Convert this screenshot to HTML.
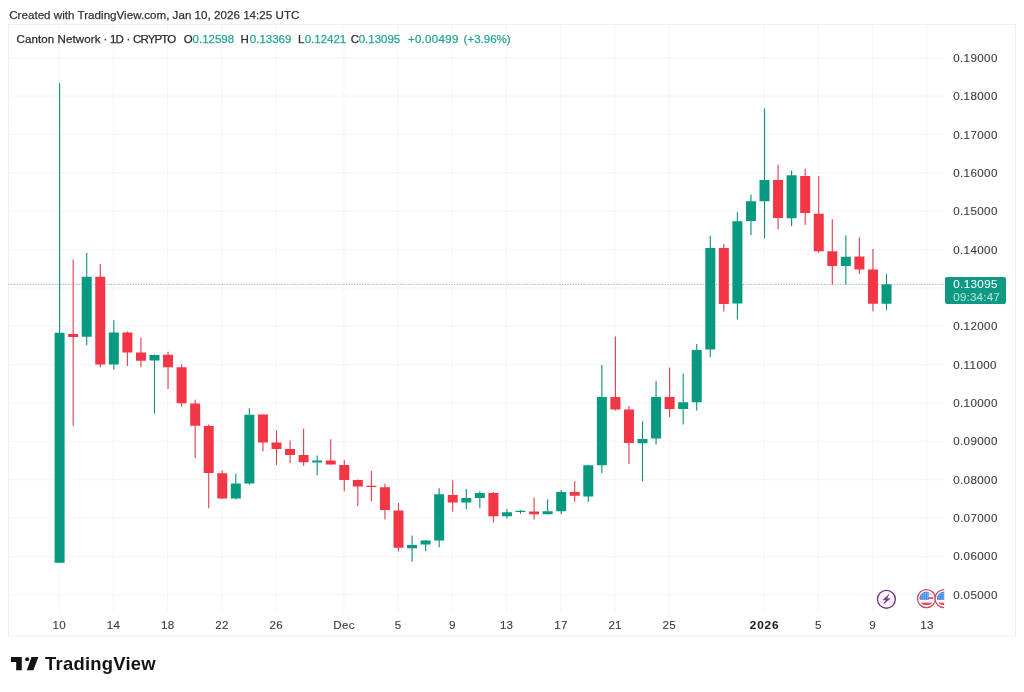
<!DOCTYPE html>
<html lang="en">
<head>
<meta charset="utf-8">
<title>Canton Network chart</title>
<style>
html,body{margin:0;padding:0;background:#fff;}
body{width:1024px;height:692px;position:relative;overflow:hidden;font-family:"Liberation Sans",sans-serif;color:#131722;-webkit-text-stroke:0.25px currentColor;}
.hdr{position:absolute;left:9.2px;top:6.7px;font-size:11.6px;line-height:16px;color:#333;white-space:nowrap;letter-spacing:0.02px}
.leg{position:absolute;left:0;top:31.4px;font-size:11.5px;line-height:16px;color:#2a2b30;white-space:nowrap}
.leg .v{color:#26a391}
.leg span{position:absolute;top:0}
.pl{-webkit-text-stroke:0.12px currentColor;position:absolute;left:953.2px;width:60px;font-size:11.6px;line-height:16px;height:16px;color:#3a3d46;white-space:nowrap;letter-spacing:0.38px}
.tl{-webkit-text-stroke:0.12px currentColor;position:absolute;top:616.7px;width:60px;text-align:center;font-size:11.6px;line-height:16px;color:#3a3d46;white-space:nowrap;letter-spacing:0.25px}
.tl.b{font-weight:bold;color:#1e2026;font-size:11.8px;letter-spacing:0.85px;text-indent:0.8px}
.tag{-webkit-text-stroke:0.08px currentColor;position:absolute;left:945.2px;top:276.5px;width:60.8px;height:27.9px;background:#0f9983;border-radius:2px;color:#f2fffb;font-size:11.6px;}
.tag div{position:absolute;left:8.1px;white-space:nowrap;line-height:14px;letter-spacing:0.38px}
.tag .t2{color:rgba(225,255,246,0.72);letter-spacing:0.19px}
.logo{-webkit-text-stroke:0;position:absolute;left:45.1px;top:651.9px;font-size:18.4px;line-height:24px;font-weight:bold;color:#131313;white-space:nowrap;letter-spacing:0.25px}
</style>
</head>
<body>
<svg width="1024" height="692" viewBox="0 0 1024 692" style="position:absolute;left:0;top:0">
<rect x="8.5" y="24.5" width="1007.0" height="611.5" fill="#fff" stroke="#eeeff1" stroke-width="1"/>
<path d="M8.5 57.7H944.0M8.5 96.1H944.0M8.5 134.4H944.0M8.5 172.8H944.0M8.5 211.1H944.0M8.5 249.5H944.0M8.5 287.9H944.0M8.5 326.2H944.0M8.5 364.6H944.0M8.5 402.9H944.0M8.5 441.3H944.0M8.5 479.7H944.0M8.5 518.0H944.0M8.5 556.4H944.0M8.5 594.7H944.0M59.2 24.5V612.5M113.4 24.5V612.5M167.6 24.5V612.5M221.9 24.5V612.5M276.1 24.5V612.5M343.9 24.5V612.5M398.1 24.5V612.5M452.3 24.5V612.5M506.5 24.5V612.5M560.8 24.5V612.5M615.0 24.5V612.5M669.2 24.5V612.5M764.1 24.5V612.5M818.3 24.5V612.5M872.6 24.5V612.5M926.8 24.5V612.5" stroke="#f4f5f7" stroke-width="1" fill="none"/>
<path d="M8.5 284.4H945.5" stroke="#5f9e93" stroke-width="1" stroke-dasharray="1.1 1.6" opacity="0.8" fill="none"/>
<path d="M59.60 83.2V562.8M86.71 253.0V345.0M113.82 320.0V369.4M154.49 354.5V413.4M235.83 473.8V499.5M249.38 408.2V484.6M317.16 455.5V475.2M412.06 535.4V561.7M425.61 540.0V551.2M439.17 488.2V547.3M466.28 489.0V509.3M479.84 491.5V508.3M506.95 509.0V518.4M520.50 510.0V513.7M547.62 499.5V514.5M561.17 490.0V514.3M588.28 464.7V502.2M601.84 364.9V473.2M642.51 421.2V481.3M656.06 381.1V444.6M683.18 373.6V424.6M696.73 344.0V410.4M710.29 235.8V357.1M737.40 212.3V319.5M750.96 194.5V235.1M764.51 108.5V238.6M791.62 170.4V226.0M845.85 235.3V284.7M886.52 273.8V310.3" stroke="#0a8f79" stroke-width="1.1" fill="none"/>
<path d="M73.16 259.4V425.8M100.27 264.3V367.2M127.38 331.5V366.0M140.94 337.4V367.2M168.05 351.7V389.0M181.60 364.3V406.4M195.16 399.7V458.0M208.72 424.6V508.2M222.27 470.4V499.0M262.94 414.5V451.3M276.50 430.3V464.8M290.05 440.5V463.1M303.61 428.7V465.7M330.72 439.2V464.8M344.28 460.0V491.2M357.83 479.5V506.0M371.39 471.0V500.9M384.94 483.7V519.5M398.50 503.0V551.5M452.72 480.3V511.7M493.39 492.0V522.4M534.06 497.5V519.4M574.73 480.9V501.8M615.40 336.6V410.4M628.95 406.0V464.1M669.62 367.5V417.1M723.84 243.9V311.4M778.07 164.7V229.6M805.18 168.8V225.0M818.74 175.9V252.7M832.29 219.3V284.7M859.40 237.5V274.0M872.96 249.1V311.2" stroke="#e63a49" stroke-width="1.1" fill="none"/>
<path d="M54.60 332.8h10.0v230.0h-10.0zM81.71 276.7h10.0v60.1h-10.0zM108.82 332.5h10.0v32.1h-10.0zM149.49 355.0h10.0v5.5h-10.0zM230.83 483.6h10.0v14.9h-10.0zM244.38 414.7h10.0v68.9h-10.0zM312.16 460.4h10.0v2.0h-10.0zM407.06 545.0h10.0v3.2h-10.0zM420.61 540.5h10.0v4.0h-10.0zM434.17 494.2h10.0v46.2h-10.0zM461.28 497.9h10.0v4.7h-10.0zM474.84 492.9h10.0v5.0h-10.0zM501.95 512.3h10.0v3.9h-10.0zM515.50 510.7h10.0v1.2h-10.0zM542.62 511.3h10.0v3.0h-10.0zM556.17 492.0h10.0v19.3h-10.0zM583.28 465.3h10.0v31.2h-10.0zM596.84 396.9h10.0v68.4h-10.0zM637.51 438.9h10.0v4.3h-10.0zM651.06 396.9h10.0v41.7h-10.0zM678.18 402.3h10.0v6.7h-10.0zM691.73 350.0h10.0v52.3h-10.0zM705.29 247.9h10.0v101.7h-10.0zM732.40 221.2h10.0v82.4h-10.0zM745.96 201.2h10.0v19.8h-10.0zM759.51 179.9h10.0v21.3h-10.0zM786.62 175.3h10.0v43.0h-10.0zM840.85 256.8h10.0v9.1h-10.0zM881.52 284.2h10.0v19.6h-10.0z" fill="#089981"/>
<path d="M68.16 334.0h10.0v3.0h-10.0zM95.27 276.7h10.0v87.9h-10.0zM122.38 332.5h10.0v19.9h-10.0zM135.94 352.4h10.0v8.3h-10.0zM163.05 354.8h10.0v12.5h-10.0zM176.60 367.3h10.0v36.0h-10.0zM190.16 403.5h10.0v22.3h-10.0zM203.72 426.0h10.0v47.0h-10.0zM217.27 473.3h10.0v25.2h-10.0zM257.94 414.6h10.0v27.8h-10.0zM271.50 442.6h10.0v6.4h-10.0zM285.05 449.0h10.0v6.0h-10.0zM298.61 455.0h10.0v7.3h-10.0zM325.72 460.6h10.0v4.0h-10.0zM339.28 464.9h10.0v15.2h-10.0zM352.83 480.1h10.0v6.3h-10.0zM366.39 485.7h10.0v1.2h-10.0zM379.94 487.2h10.0v22.8h-10.0zM393.50 510.4h10.0v37.4h-10.0zM447.72 494.9h10.0v7.7h-10.0zM488.39 492.9h10.0v23.3h-10.0zM529.06 511.5h10.0v2.7h-10.0zM569.73 492.0h10.0v3.7h-10.0zM610.40 396.9h10.0v12.7h-10.0zM623.95 409.6h10.0v33.4h-10.0zM664.62 396.9h10.0v12.1h-10.0zM718.84 247.9h10.0v56.1h-10.0zM773.07 179.9h10.0v38.0h-10.0zM800.18 175.9h10.0v37.0h-10.0zM813.74 213.8h10.0v37.5h-10.0zM827.29 251.3h10.0v14.6h-10.0zM854.40 256.4h10.0v13.1h-10.0zM867.96 269.4h10.0v34.4h-10.0z" fill="#f23645"/>

<defs>
<clipPath id="paneclip"><rect x="8.5" y="24.5" width="935.7" height="588"/></clipPath>
<clipPath id="fc"><circle cx="0" cy="0" r="7.1"/></clipPath>
<pattern id="stars" x="-7.6" y="-7.4" width="2.1" height="2.1" patternUnits="userSpaceOnUse"><rect width="2.1" height="2.1" fill="#3f7fdc"/><path d="M0 0H2.1M0 0V2.1" stroke="#9fd4f7" stroke-width="0.7"/></pattern>
<g id="flag">
<circle cx="0" cy="0" r="9.05" fill="#fff" stroke="#cf4a62" stroke-width="1.3"/>
<g clip-path="url(#fc)">
<rect x="-8" y="-8" width="16" height="16" fill="#fff"/>
<rect x="-8" y="-5.3" width="16" height="1.5" fill="#f6c3ca"/>
<rect x="-8" y="-1.3" width="16" height="1.7" fill="#d9506a"/>
<rect x="-8" y="4.0" width="16" height="2.6" fill="#dc5068"/>
<rect x="-8" y="-8" width="10.2" height="9.3" fill="url(#stars)"/>
</g>
</g>
</defs>
<g>
<circle cx="886.4" cy="599.3" r="8.95" fill="#fef7ff" stroke="#6c3386" stroke-width="1.3"/>
<path d="M888.9 594.4L882.9 599.9L886.2 599.7L883.6 604L890.2 598.6L886.8 598.8Z" fill="#74358f" stroke="#74358f" stroke-width="0.5" stroke-linejoin="round"/>
</g>
<g fill="#131313"><path d="M11 657.1H21.8V670.3H16.2V661.9H11Z"/><circle cx="27.1" cy="659.2" r="2.0"/><path d="M31.5 657.1H38.4L33.4 670.3H26.8Z"/></g>
<g clip-path="url(#paneclip)">
<use href="#flag" x="926.5" y="598.6"/>
<use href="#flag" x="944.1" y="598.6"/>
</g>

</svg>
<div class="hdr">Created with TradingView.com, Jan 10, 2026 14:25 UTC</div>
<div class="leg"><span style="left:16.5px;letter-spacing:0.12px">Canton Network</span><span style="left:103.4px">·</span><span style="left:110px;letter-spacing:-0.9px">1D</span><span style="left:126.4px">·</span><span style="left:133px;letter-spacing:-0.85px">CRYPTO</span><span style="left:183.8px;letter-spacing:-0.3px">O</span><span class="v" style="left:192.6px">0.12598</span><span style="left:240.4px">H</span><span class="v" style="left:249.8px">0.13369</span><span style="left:297.9px">L</span><span class="v" style="left:304.7px">0.12421</span><span style="left:350.8px;">C</span><span class="v" style="left:358.7px">0.13095</span><span class="v" style="left:407.9px;letter-spacing:0.3px">+0.00499</span><span class="v" style="left:463.6px">(+3.96%)</span></div>
<div class="pl" style="top:50.0px">0.19000</div>
<div class="pl" style="top:88.3px">0.18000</div>
<div class="pl" style="top:126.7px">0.17000</div>
<div class="pl" style="top:165.0px">0.16000</div>
<div class="pl" style="top:203.4px">0.15000</div>
<div class="pl" style="top:241.7px">0.14000</div>
<div class="pl" style="top:280.0px">0.13000</div>
<div class="pl" style="top:318.4px">0.12000</div>
<div class="pl" style="top:356.7px">0.11000</div>
<div class="pl" style="top:395.1px">0.10000</div>
<div class="pl" style="top:433.4px">0.09000</div>
<div class="pl" style="top:471.7px">0.08000</div>
<div class="pl" style="top:510.1px">0.07000</div>
<div class="pl" style="top:548.4px">0.06000</div>
<div class="pl" style="top:586.8px">0.05000</div>
<div class="tl" style="left:29.3px">10</div>
<div class="tl" style="left:83.5px">14</div>
<div class="tl" style="left:137.7px">18</div>
<div class="tl" style="left:192.0px">22</div>
<div class="tl" style="left:246.2px">26</div>
<div class="tl" style="left:314.0px">Dec</div>
<div class="tl" style="left:368.2px">5</div>
<div class="tl" style="left:422.4px">9</div>
<div class="tl" style="left:476.6px">13</div>
<div class="tl" style="left:530.9px">17</div>
<div class="tl" style="left:585.1px">21</div>
<div class="tl" style="left:639.3px">25</div>
<div class="tl b" style="left:734.2px">2026</div>
<div class="tl" style="left:788.4px">5</div>
<div class="tl" style="left:842.7px">9</div>
<div class="tl" style="left:896.9px">13</div>
<div class="tag"><div style="top:0.5px">0.13095</div><div class="t2" style="top:13.4px">09:34:47</div></div>
<div class="logo">TradingView</div>
</body>
</html>
